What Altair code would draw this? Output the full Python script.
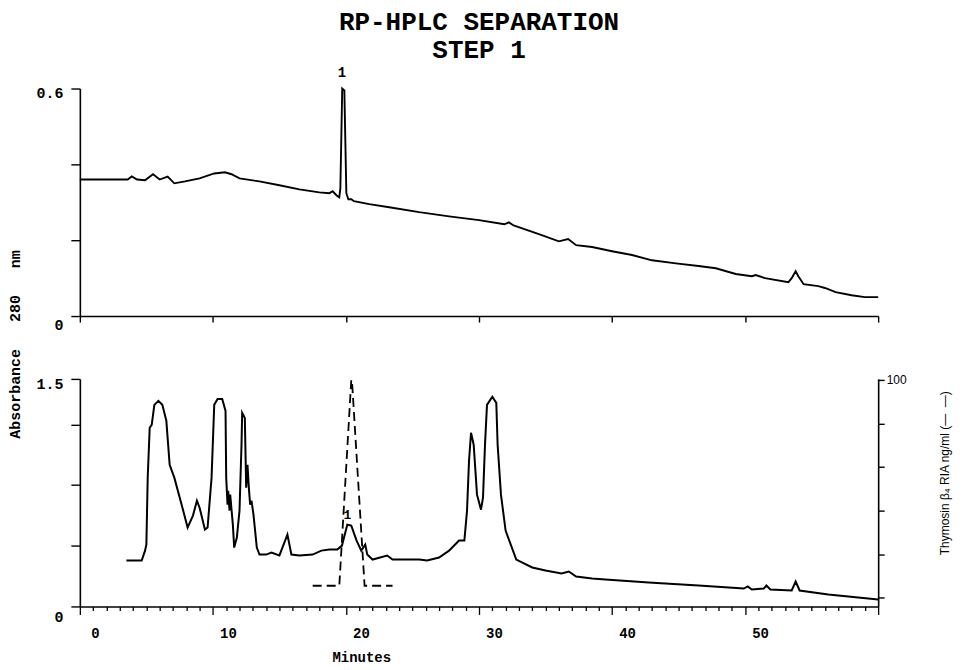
import altair as alt
import pandas as pd

# ---------------- data ----------------
# Top panel: absorbance 280 nm (0 - 0.6)
top_min = [0, 3.6, 3.9, 4.3, 4.9, 5.5, 6.0, 6.6, 7.1, 7.9, 9.0, 10.1, 10.9, 11.4, 12.0,
           13.5, 15.0, 16.5, 18.0, 18.75, 19.0, 19.3, 19.5, 19.58, 19.65, 19.72, 19.88,
           19.95, 20.03, 20.18, 20.4, 20.6, 21.75, 23.25, 25.5, 27.75, 30.0, 31.9, 32.25,
           32.6, 34.5, 36.0, 36.7, 37.3, 38.5, 40.0, 41.5, 43.0, 44.8, 46.5, 47.8, 49.3,
           50.5, 50.8, 51.5, 53.25, 53.5, 53.8, 54.0, 54.4, 55.5, 56.0, 56.8, 58.0, 59.0, 60.0]
top_abs = [0.360, 0.360, 0.368, 0.360, 0.358, 0.374, 0.360, 0.368, 0.350, 0.355, 0.363,
           0.376, 0.379, 0.374, 0.363, 0.355, 0.345, 0.334, 0.326, 0.324, 0.329, 0.318,
           0.313, 0.337, 0.468, 0.600, 0.595, 0.468, 0.324, 0.308, 0.308, 0.303, 0.295,
           0.287, 0.274, 0.263, 0.253, 0.242, 0.247, 0.239, 0.216, 0.197, 0.203, 0.187,
           0.182, 0.171, 0.161, 0.147, 0.139, 0.132, 0.126, 0.111, 0.105, 0.108, 0.100,
           0.089, 0.100, 0.118, 0.105, 0.084, 0.079, 0.074, 0.063, 0.055, 0.050, 0.050]

# Bottom panel: absorbance 280 nm (0 - 1.5)
bot_min = [3.5, 4.65, 4.9, 5.0, 5.1, 5.25, 5.4, 5.6, 5.9, 6.2, 6.5, 6.75, 7.1, 7.65, 8.1,
           8.5, 8.8, 9.0, 9.4, 9.6, 9.9, 10.1, 10.35, 10.7, 10.95, 11.0, 11.1, 11.15, 11.25,
           11.3, 11.5, 11.6, 11.8, 12.0, 12.15, 12.2, 12.4, 12.5, 12.6, 12.7, 12.8, 12.9,
           13.05, 13.3, 13.5, 14.0, 14.4, 15.0, 15.6, 15.9, 16.5, 17.5, 18.15, 18.75, 19.35,
           19.7, 20.1, 20.4, 20.8, 21.15, 21.45, 21.6, 22.0, 23.1, 23.5, 25.5, 26.1, 27.0,
           27.75, 28.5, 28.9, 29.1, 29.25, 29.4, 29.6, 29.85, 30.15, 30.3, 30.45, 30.6, 31.0,
           31.3, 31.4, 31.65, 32.0, 32.8, 34.0, 35.0, 36.2, 36.75, 37.3, 38.5, 39.5, 42.75,
           46.5, 49.9, 50.2, 50.5, 51.4, 51.6, 51.9, 53.5, 53.8, 54.1, 56.25, 58.5, 60.0]
bot_abs = [0.303, 0.303, 0.368, 0.408, 0.849, 1.178, 1.197, 1.329, 1.355, 1.329, 1.224,
           0.934, 0.849, 0.671, 0.520, 0.599, 0.697, 0.651, 0.507, 0.520, 0.849, 1.329,
           1.368, 1.368, 1.289, 0.849, 0.671, 0.763, 0.632, 0.737, 0.539, 0.388, 0.454,
           0.632, 1.066, 1.276, 1.243, 0.783, 0.934, 0.783, 0.671, 0.697, 0.605, 0.388,
           0.342, 0.342, 0.355, 0.336, 0.474, 0.342, 0.336, 0.342, 0.368, 0.375, 0.375,
           0.401, 0.539, 0.533, 0.434, 0.368, 0.408, 0.342, 0.309, 0.336, 0.309, 0.309,
           0.303, 0.322, 0.368, 0.434, 0.434, 0.632, 0.961, 1.145, 1.066, 0.737, 0.638,
           0.717, 1.066, 1.329, 1.382, 1.342, 1.066, 0.737, 0.500, 0.309, 0.257, 0.237,
           0.217, 0.230, 0.197, 0.184, 0.178, 0.158, 0.138, 0.118, 0.132, 0.112, 0.118,
           0.138, 0.112, 0.105, 0.164, 0.105, 0.079, 0.059, 0.046]

# Thymosin beta4 RIA (dashed, right axis, ng/ml)
ria_min = [17.5, 19.5, 20.4, 20.45, 21.4, 23.5]
ria_ng = [5.5, 5.5, 100, 100, 5.5, 5.5]

# peak labels
top_peak_min = [19.7]
top_peak_val = [0.642]
bot_peak_min = [20.1]
bot_peak_val = [0.605]
peak_text = ["1"]

x_minor_ticks = list(range(0, 61))
x_major_ticks = list(range(0, 61, 10))
top_y_ticks = [0, 0.2, 0.4, 0.6]
bot_y_ticks = [0, 0.4, 0.8, 1.2, 1.5]
ria_ticks = [0, 20, 40, 60, 80, 100]

NB = "\u00a0"
title_lines = ["RP-HPLC SEPARATION", "STEP 1"]
y_title = "Absorbance" + NB * 3 + "280" + NB * 3 + "nm"
x_title = "Minutes"
ria_title = "Thymosin \u03b2\u2084 RIA ng/ml (\u2014" + NB * 2 + "\u2014)"

# ---------------- tables ----------------
top_df = pd.DataFrame({"min": top_min, "abs": top_abs})
bot_df = pd.DataFrame({"min": bot_min, "abs": bot_abs})
ria_df = pd.DataFrame({"min": ria_min, "ng": ria_ng})
top_lab = pd.DataFrame({"min": top_peak_min, "abs": top_peak_val, "t": peak_text})
bot_lab = pd.DataFrame({"min": bot_peak_min, "abs": bot_peak_val, "t": peak_text})

MONO = "Liberation Mono"
SANS = "Liberation Sans"
W, H = 800, 228

x_scale = alt.Scale(domain=[0, 60], nice=False, zero=False)

top_x_axis = alt.Axis(values=x_major_ticks, labels=False, title=None, grid=False,
                      tickSize=6, domainWidth=1.6, tickWidth=1.4,
                      domainColor="black", tickColor="black")

bot_x_axis = alt.Axis(
    values=x_minor_ticks, grid=False, title=x_title,
    labelExpr="datum.value % 10 === 0 && datum.value <= 50 ? datum.label : ''",
    labelOverlap=False, labelFlush=False, labelOffset=15, labelPadding=12,
    labelFont=MONO, labelFontSize=14, labelFontWeight="bold", labelColor="black",
    tickSize={"condition": {"test": "datum.value % 10 === 0", "value": 8}, "value": 4},
    tickWidth=1.3, tickColor="black", domainColor="black", domainWidth=1.6,
    titleFont=MONO, titleFontSize=14, titleFontWeight="bold", titleColor="black",
    titleX=282, titleY=44, titleBaseline="top", titleAlign="center",
)

top_y_axis = alt.Axis(
    values=top_y_ticks, grid=False, tickSize=9, labelPadding=8,
    labelExpr="datum.value === 0 ? '0' : (datum.value === 0.6 ? '0.6' : '')",
    labelFont=MONO, labelFontSize=15, labelFontWeight="bold", labelColor="black",
    labelOffset={"condition": {"test": "datum.value === 0", "value": 8}, "value": 4},
    tickColor="black", tickWidth=1.4, domainColor="black", domainWidth=1.6,
    title=y_title, titleFont=MONO, titleFontSize=15, titleFontWeight="bold",
    titleColor="black", titleAngle=270, titleX=-57, titleY=256,
    titleBaseline="bottom", titleAlign="center",
)

bot_y_axis = alt.Axis(
    values=bot_y_ticks, grid=False, tickSize=9, labelPadding=8, title=None,
    labelExpr="datum.value === 0 ? '0' : (datum.value === 1.5 ? '1.5' : '')",
    labelFont=MONO, labelFontSize=15, labelFontWeight="bold", labelColor="black",
    labelOffset={"condition": {"test": "datum.value === 0", "value": 10}, "value": 5},
    tickColor="black", tickWidth=1.4, domainColor="black", domainWidth=1.6,
)

ria_axis = alt.Axis(
    orient="right", values=ria_ticks, grid=False, tickSize=6, labelPadding=2,
    labelExpr="datum.value === 100 ? '100' : ''",
    labelFont=SANS, labelFontSize=12, labelColor="black",
    tickColor="black", tickWidth=1.4, domainColor="black", domainWidth=1.6,
    title=ria_title, titleFont=SANS, titleFontSize=12, titleFontWeight="normal",
    titleColor="black", titleAngle=270, titleX=73, titleY=94,
    titleBaseline="bottom", titleAlign="center",
)

# ---------------- top panel ----------------
top_line = alt.Chart(top_df).mark_line(color="black", strokeWidth=1.9).encode(
    x=alt.X("min:Q", scale=x_scale, axis=top_x_axis),
    y=alt.Y("abs:Q", scale=alt.Scale(domain=[0, 0.6], nice=False), axis=top_y_axis),
)
top_text = alt.Chart(top_lab).mark_text(font=MONO, fontSize=14, fontWeight="bold",
                                        color="black", baseline="middle").encode(
    x=alt.X("min:Q", scale=x_scale, axis=top_x_axis),
    y=alt.Y("abs:Q", scale=alt.Scale(domain=[0, 0.6], nice=False), axis=top_y_axis),
    text="t:N",
)
top = alt.layer(top_line, top_text).properties(width=W, height=H)

# ---------------- bottom panel ----------------
bot_scale = alt.Scale(domain=[0, 1.5], nice=False)
bot_line = alt.Chart(bot_df).mark_line(color="black", strokeWidth=2).encode(
    x=alt.X("min:Q", scale=x_scale, axis=bot_x_axis),
    y=alt.Y("abs:Q", scale=bot_scale, axis=bot_y_axis),
)
bot_text = alt.Chart(bot_lab).mark_text(font=MONO, fontSize=13, fontWeight="bold",
                                        color="black", baseline="middle").encode(
    x=alt.X("min:Q", scale=x_scale, axis=bot_x_axis),
    y=alt.Y("abs:Q", scale=bot_scale, axis=bot_y_axis),
    text="t:N",
)
left_layers = alt.layer(bot_line, bot_text)
ria_line = alt.Chart(ria_df).mark_line(color="black", strokeWidth=1.8,
                                       strokeDash=[9, 5]).encode(
    x=alt.X("min:Q", scale=x_scale, axis=bot_x_axis),
    y=alt.Y("ng:Q", scale=alt.Scale(domain=[-4, 100.5], nice=False), axis=ria_axis),
)
bottom = alt.layer(left_layers, ria_line).resolve_scale(y="independent").properties(
    width=W, height=H)

chart = alt.vconcat(top, bottom, spacing=63, bounds="flush").properties(
    title=alt.TitleParams(text=title_lines, font=MONO, fontSize=26, fontWeight="bold",
                          color="black", anchor="middle", lineHeight=28, offset=3),
    padding={"left": 0, "top": 0, "right": 5, "bottom": 5},
).configure_view(stroke=None).configure_axis(grid=False)

chart.save("out.html", embed_options={"renderer": "svg", "actions": False})
